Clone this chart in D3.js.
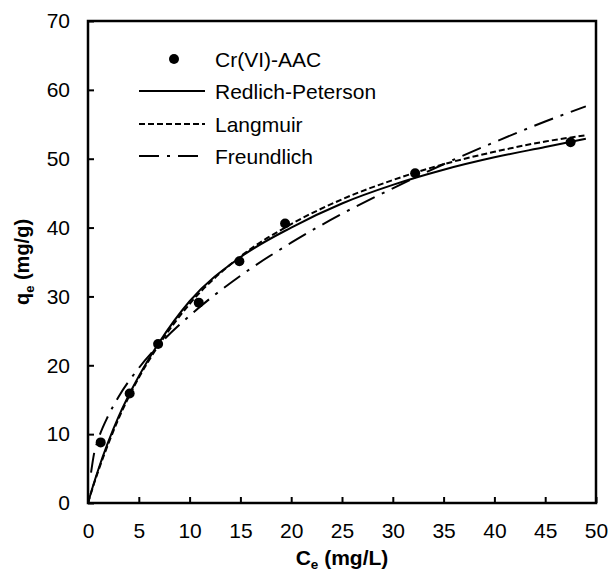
<!DOCTYPE html>
<html lang="en">
<head>
    <meta charset="UTF-8">
    <title>Cr(VI)-AAC isotherms</title>
    <script src="https://d3js.org/d3.v7.min.js"></script>
    <style>
        body { margin: 0; background: #fff; }
        text { font-family: Arial, "Liberation Sans", sans-serif; fill: #000; }
    </style>
</head>
<body>
    <svg id="chart"></svg>
    <script>
        // experimental points
        const ceData = [1.25, 4.1, 6.9, 10.9, 14.9, 19.4, 32.2, 47.5];
        const qeData = [8.8, 15.9, 23.1, 29.1, 35.1, 40.6, 47.9, 52.4];

        // model curves
        const curveC = [0, 0.5, 1, 2, 3, 5, 7, 10, 15, 20, 25, 30, 35, 40, 45, 49];
        const redlichQ = [0, 2.5, 4.8, 8.9, 12.5, 18.4, 23.3, 29.3, 35.7, 40.0, 43.5, 46.2, 48.4, 50.2, 51.7, 52.9];
        const langmuirQ = [0, 2.4, 4.6, 8.6, 12.2, 18.2, 23.0, 28.9, 35.8, 40.5, 44.1, 46.9, 49.2, 51.0, 52.5, 53.4];
        const freundC = [0.3, 0.6, 1, 2, 3, 5, 7, 10, 15, 20, 25, 30, 35, 40, 45, 49];
        const freundQ = [4.4, 7.2, 9.2, 12.7, 15.4, 19.6, 23.0, 27.2, 33.0, 37.8, 42.0, 45.7, 49.2, 52.4, 55.4, 57.6];

        const xTicks = [0, 5, 10, 15, 20, 25, 30, 35, 40, 45, 50];
        const yTicks = [0, 10, 20, 30, 40, 50, 60, 70];

        const width = 608, height = 574;
        const margin = {top: 21, right: 12, bottom: 71, left: 88};

        const svg = d3.select("#chart").attr("width", width).attr("height", height);

        const x = d3.scaleLinear().domain([0, 50]).range([margin.left, width - margin.right]);
        const y = d3.scaleLinear().domain([0, 70]).range([height - margin.bottom, margin.top]);

        // axes, ticks pointing inward
        const xAxis = svg.append("g")
            .attr("transform", `translate(0,${y(0)})`)
            .call(d3.axisBottom(x).tickValues(xTicks).tickSizeInner(-6).tickSizeOuter(0).tickPadding(20));
        const yAxis = svg.append("g")
            .attr("transform", `translate(${x(0)},0)`)
            .call(d3.axisLeft(y).tickValues(yTicks).tickSizeInner(-6).tickSizeOuter(0).tickPadding(18));

        [xAxis, yAxis].forEach(g => {
            g.select(".domain").remove();
            g.selectAll(".tick line").attr("stroke", "#000").attr("stroke-width", 2);
            g.selectAll(".tick text").style("font-size", "21px").attr("fill", "#000");
        });

        // frame
        svg.append("rect")
            .attr("x", x(0)).attr("y", y(70))
            .attr("width", x(50) - x(0)).attr("height", y(0) - y(70))
            .attr("fill", "none").attr("stroke", "#000").attr("stroke-width", 2.5);

        const line = d3.line().x(d => x(d[0])).y(d => y(d[1])).curve(d3.curveMonotoneX);

        const styles = {
            redlich: {dash: null},
            langmuir: {dash: "6,3"},
            freund: {dash: "20,8,3,8"}
        };

        const plot = svg.append("g");
        plot.append("path")
            .attr("d", line(d3.zip(freundC, freundQ)))
            .attr("fill", "none").attr("stroke", "#000").attr("stroke-width", 2)
            .attr("stroke-dasharray", styles.freund.dash);
        plot.append("path")
            .attr("d", line(d3.zip(curveC, langmuirQ)))
            .attr("fill", "none").attr("stroke", "#000").attr("stroke-width", 2)
            .attr("stroke-dasharray", styles.langmuir.dash);
        plot.append("path")
            .attr("d", line(d3.zip(curveC, redlichQ)))
            .attr("fill", "none").attr("stroke", "#000").attr("stroke-width", 2);

        plot.selectAll("circle")
            .data(d3.zip(ceData, qeData))
            .enter().append("circle")
            .attr("cx", d => x(d[0])).attr("cy", d => y(d[1]))
            .attr("r", 5).attr("fill", "#000");

        // legend
        const legend = svg.append("g");
        const legendItems = [
            {label: "Cr(VI)-AAC", type: "dot", y: 59},
            {label: "Redlich-Peterson", type: "line", dash: styles.redlich.dash, y: 91},
            {label: "Langmuir", type: "line", dash: styles.langmuir.dash, y: 124},
            {label: "Freundlich", type: "line", dash: styles.freund.dash, y: 156}
        ];
        legendItems.forEach(it => {
            if (it.type === "dot") {
                legend.append("circle").attr("cx", 174).attr("cy", it.y).attr("r", 5).attr("fill", "#000");
            } else {
                legend.append("line")
                    .attr("x1", 139).attr("x2", 205).attr("y1", it.y).attr("y2", it.y)
                    .attr("stroke", "#000").attr("stroke-width", 2)
                    .attr("stroke-dasharray", it.dash);
            }
            legend.append("text")
                .attr("x", 215).attr("y", it.y + 7.5)
                .style("font-size", "21px")
                .text(it.label);
        });

        // axis titles
        const xTitle = svg.append("text")
            .attr("x", (x(0) + x(50)) / 2).attr("y", 565)
            .attr("text-anchor", "middle")
            .style("font-size", "21px").style("font-weight", "bold");
        xTitle.append("tspan").text("C");
        xTitle.append("tspan").attr("dy", 4).style("font-size", "13.5px").text("e");
        xTitle.append("tspan").attr("dy", -4).text(" (mg/L)");

        const yTitle = svg.append("text")
            .attr("transform", `translate(29,${(y(0) + y(70)) / 2}) rotate(-90)`)
            .attr("text-anchor", "middle")
            .style("font-size", "20px").style("font-weight", "bold");
        yTitle.append("tspan").text("q");
        yTitle.append("tspan").attr("dy", 5).style("font-size", "13px").text("e");
        yTitle.append("tspan").attr("dy", -5).text(" (mg/g)");
    </script>
</body>
</html>
